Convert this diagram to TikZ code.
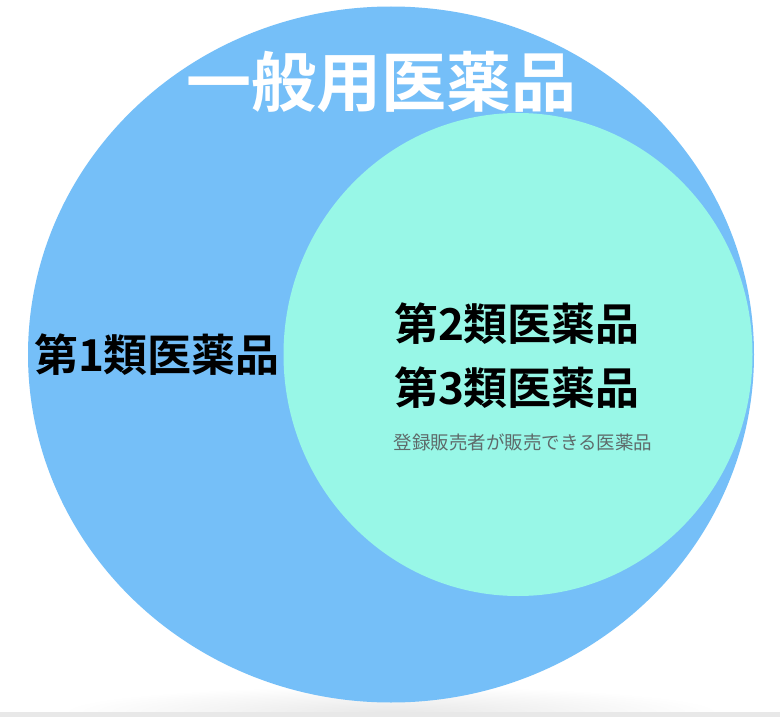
\documentclass[tikz,border=0pt]{standalone}
\usepackage{fontspec}
\usetikzlibrary{calc}
\usepgflibrary{shapes.geometric}
\newfontfamily\jp{Noto Sans CJK JP}[BoldFont={Noto Sans CJK JP Bold}]
\definecolor{outerblue}{HTML}{75BFF8}
\definecolor{innermint}{HTML}{98F7E7}
\definecolor{subgray}{HTML}{5E6A6A}

\begin{document}
\begin{tikzpicture}[x=1pt, y=-1pt,
    label/.style={font=\jp\bfseries\fontsize{44}{44}\selectfont, inner sep=0pt},
    blob/.style={ellipse, inner sep=0pt}]
          \useasboundingbox (0,0) rectangle (780,717);
          \fill[white] (0,0) rectangle (780,717);

          % soft shadow and bar at the bottom
          \begin{scope}
            \clip (0,0) rectangle (780,712);
            \shade[inner color=black!9, outer color=white] (391,712) ellipse [x radius=330pt, y radius=26pt];
          \end{scope}
          \fill[black!9] (0,712) rectangle (780,717);

          \node[blob, fill=outerblue, minimum width=726pt, minimum height=696pt]
          (general) at (391,354.5) {};
          \node[blob, fill=innermint, minimum width=469pt, minimum height=483pt]
          (second) at (518,354.5) {};

          \node[font=\jp\bfseries\fontsize{65}{65}\selectfont, text=white, inner sep=0pt]
          (title) at (381,82) {一般用医薬品};
          \node[label] (first) at (157,355) {第1類医薬品};
          \node[label] (two) at (517,324) {第2類医薬品};
          \node[label] (three) at (517,388) {第3類医薬品};
          \node[font=\jp\fontsize{18.5}{18.5}\selectfont, text=subgray, inner sep=0pt]
          (note) at (523,442) {登録販売者が販売できる医薬品};

        \end{tikzpicture}
\end{document}
